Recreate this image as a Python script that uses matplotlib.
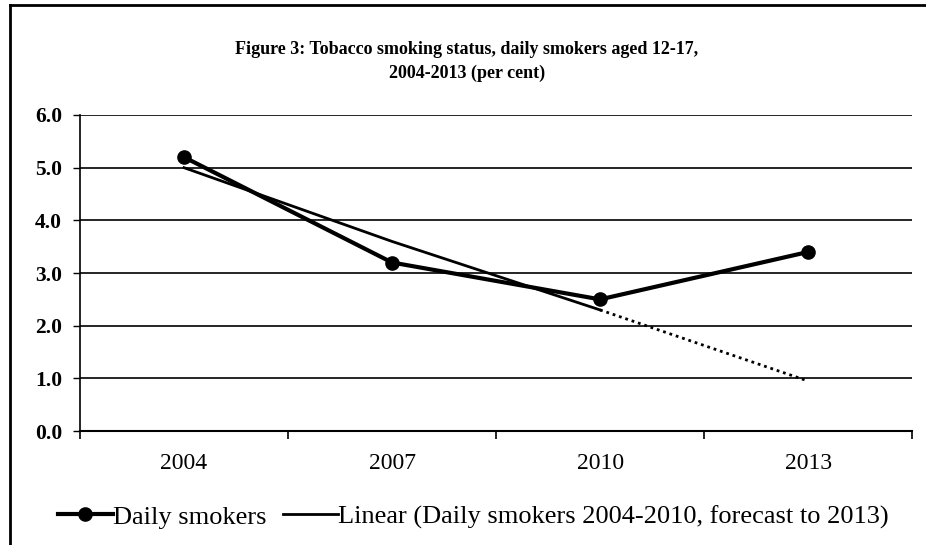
import numpy as np
import matplotlib.pyplot as plt
from matplotlib.lines import Line2D

# data
years = ['2004', '2007', '2010', '2013']
daily = [5.2, 3.2, 2.5, 3.4]
trend = [5.0, 3.6, 2.3, 0.95]   # linear fit 2004-2010, forecast to 2013
yticks = [0.0, 1.0, 2.0, 3.0, 4.0, 5.0, 6.0]

plt.rcParams['font.family'] = 'Liberation Serif'

fig = plt.figure(figsize=(9.26, 5.45), dpi=100)
ax = fig.add_axes([0.0864, 0.209, 0.8986, 0.580])

x = np.arange(len(years))

ax.grid(axis='y', color='black', linewidth=1.2, zorder=0)
ax.set_axisbelow(True)

# trend: solid over fitted range, dotted for forecast
ax.plot(x[:3], trend[:3], color='black', linewidth=2.0, zorder=2)
ax.plot(x[2:], trend[2:], color='black', linewidth=2.0, linestyle=(0, (1, 1.4)), zorder=2)
ax.plot(x, daily, color='black', linewidth=3.0, marker='o', markersize=9.5, zorder=3)

ax.set_xlim(-0.5, 3.5)
ax.set_ylim(0, 6)
ax.set_yticks(yticks)
ax.set_yticklabels(['%.1f' % v for v in yticks], fontsize=15.5, fontweight='bold')
ax.set_xticks(np.arange(-0.5, 4, 1.0))
ax.set_xticklabels([])
ax.set_xticks(x, minor=True)
ax.set_xticklabels(years, minor=True, fontsize=17)
ax.tick_params(axis='x', which='major', length=6, width=1.2, direction='out')
ax.tick_params(axis='x', which='minor', length=0, pad=16)
ax.tick_params(axis='y', length=5, width=1.0, pad=8)

for s in ['top', 'right']:
    ax.spines[s].set_visible(False)
ax.spines['left'].set_linewidth(1.2)
ax.spines['bottom'].set_linewidth(1.5)

fig.text(0.504, 0.888, 'Figure 3: Tobacco smoking status, daily smokers aged 12-17,\n2004-2013 (per cent)',
         ha='center', va='center', fontsize=13, fontweight='bold', linespacing=1.5)

handles = [Line2D([], [], color='black', linewidth=3.0, marker='o', markersize=9.5),
           Line2D([], [], color='black', linewidth=2.0)]
fig.legend(handles, ['Daily smokers', 'Linear (Daily smokers 2004-2010, forecast to 2013)'],
           loc='center', bbox_to_anchor=(0.511, 0.051), ncol=2, frameon=False,
           fontsize=19, handlelength=2.1, handletextpad=0.0, columnspacing=0.6)

# outer frame of the scanned chart
fig.add_artist(Line2D([0.011, 0.011], [0.0, 0.99], color='black', linewidth=2, transform=fig.transFigure))
fig.add_artist(Line2D([0.011, 1.0], [0.99, 0.99], color='black', linewidth=2, transform=fig.transFigure))

fig.savefig('out.png', dpi=100)
